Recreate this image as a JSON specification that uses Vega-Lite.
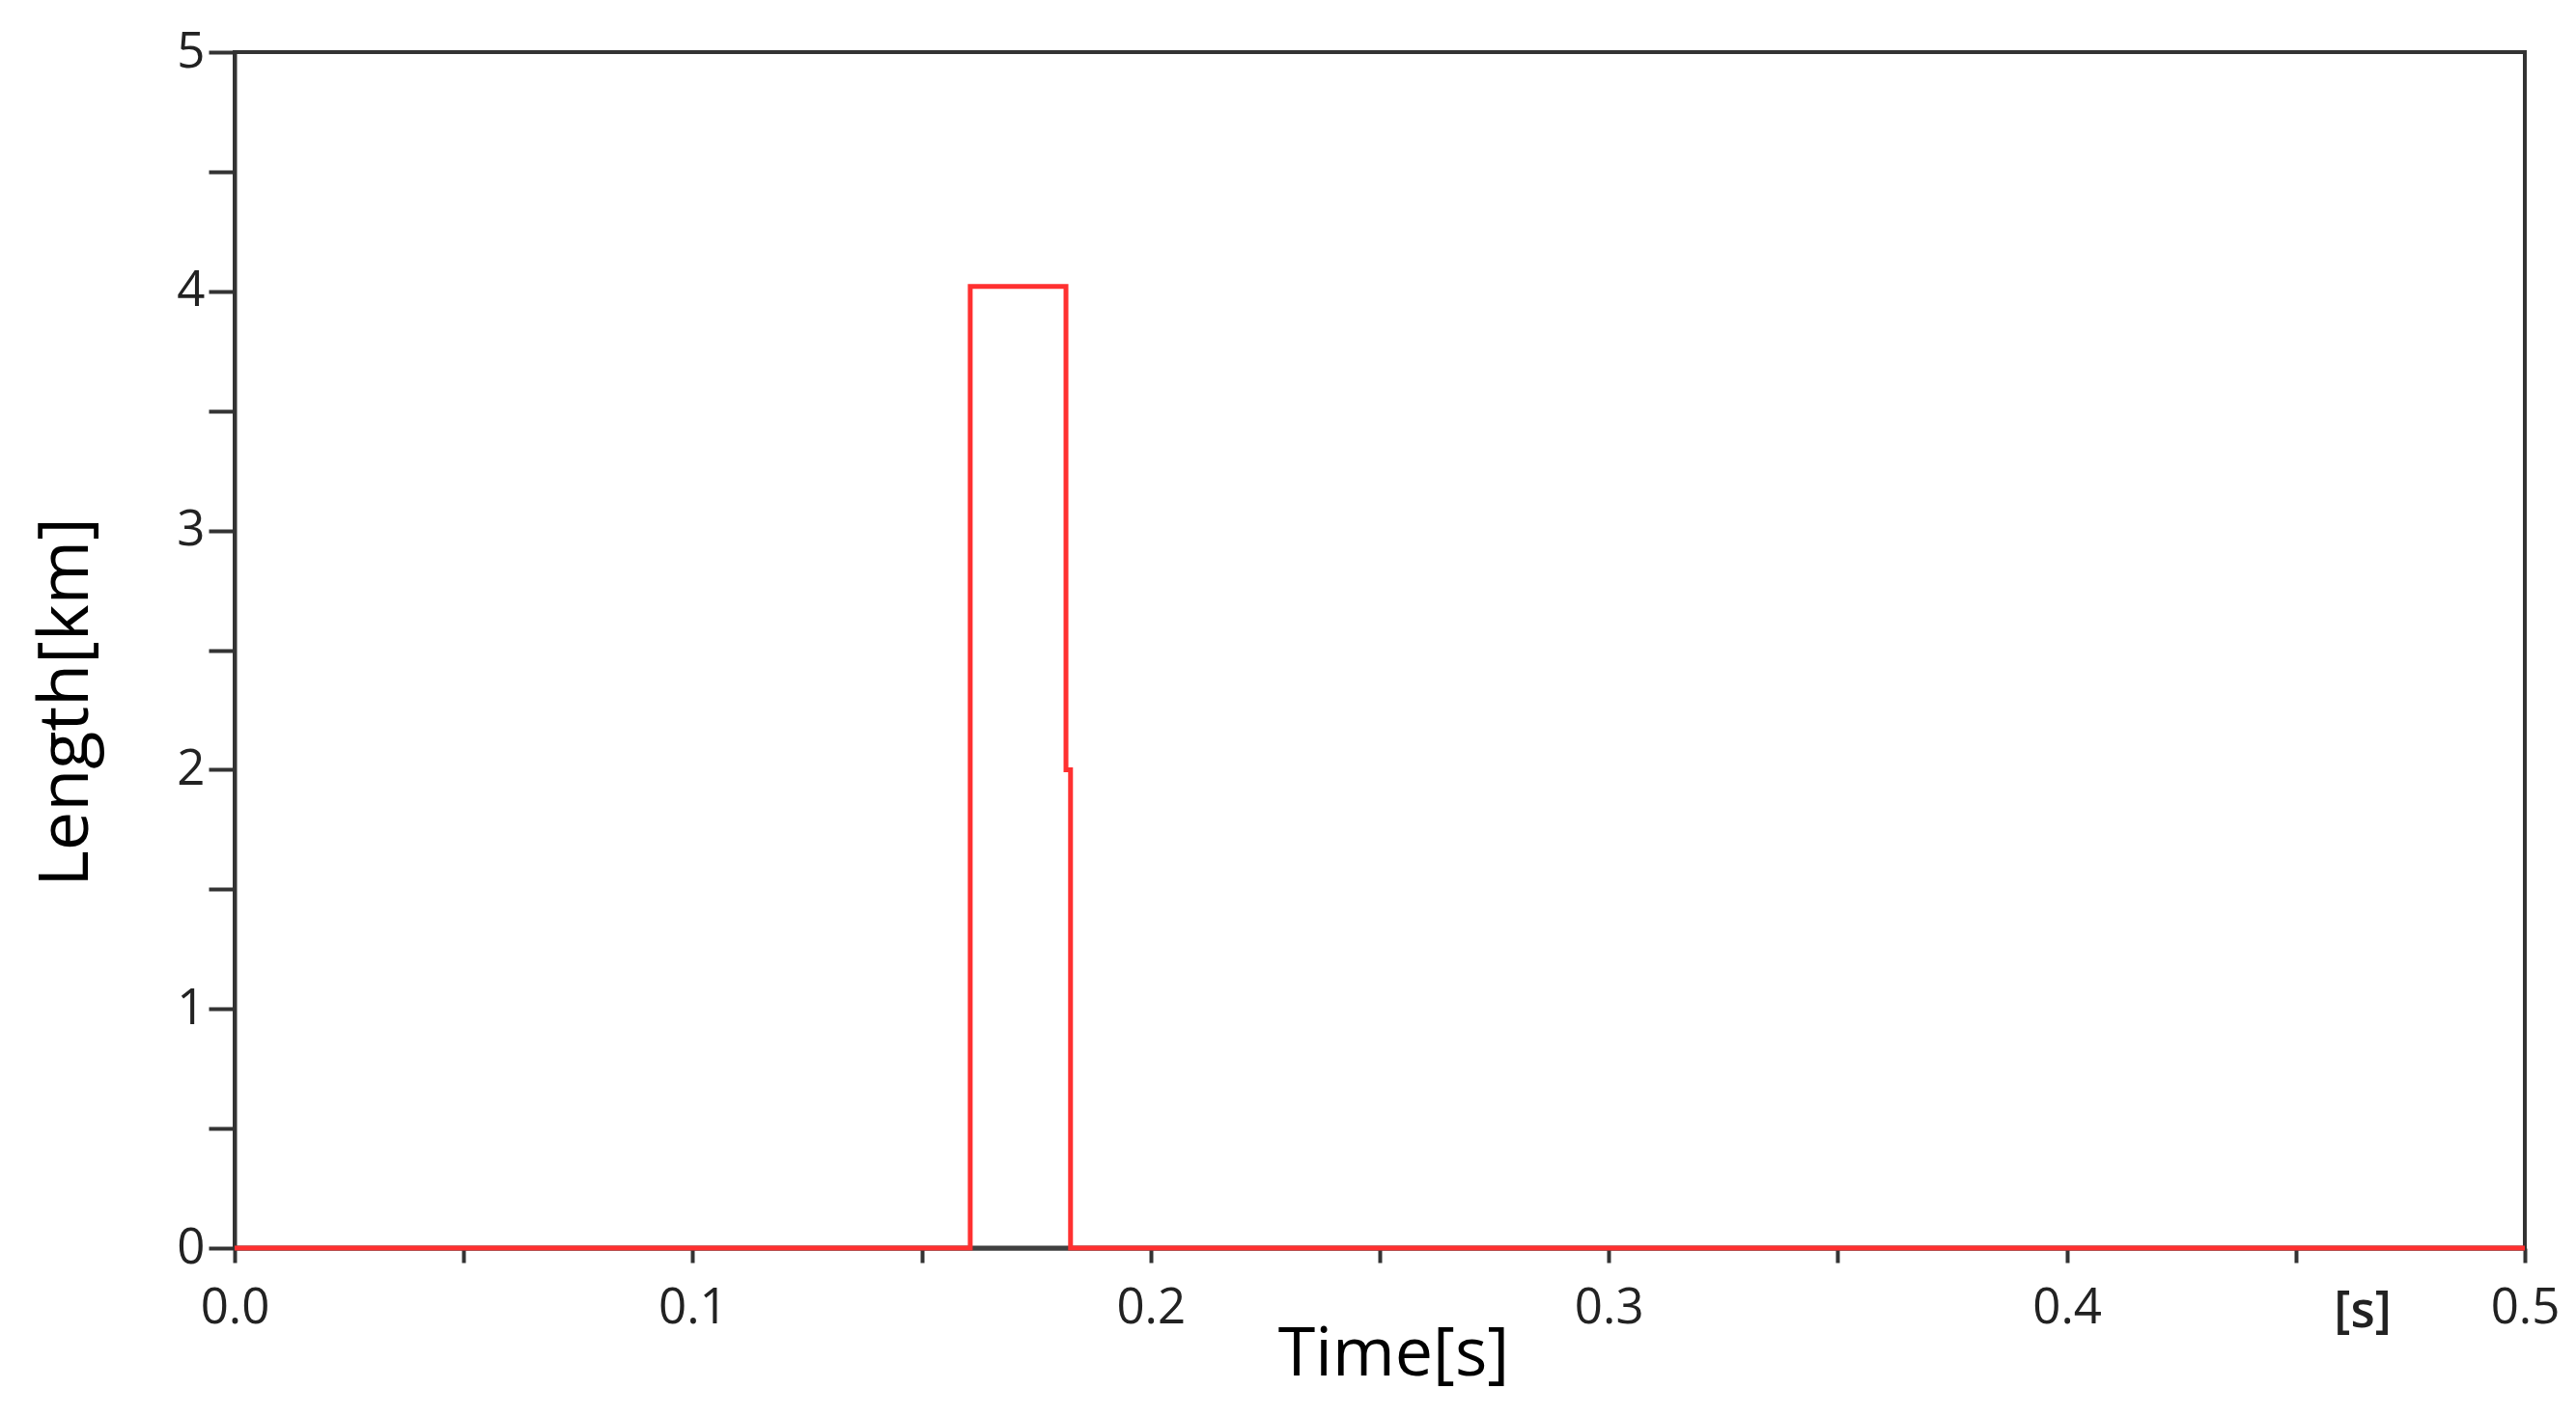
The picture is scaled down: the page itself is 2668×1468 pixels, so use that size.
{
  "$schema": "https://vega.github.io/schema/vega-lite/v6.json",
  "width": 2372,
  "height": 1239,
  "autosize": {"type": "none"},
  "padding": {"left": 243, "top": 54, "right": 53, "bottom": 175},
  "background": "white",
  "config": {
    "view": {"stroke": "#333333", "strokeWidth": 4},
    "font": "Open Sans",
    "axis": {"grid": false}
  },
  "datasets": {
    "lines": [
      {"series": "base", "t": 0, "v": 0},
      {"series": "base", "t": 0.5, "v": 0},
      {"series": "length", "t": 0, "v": 0},
      {"series": "length", "t": 0.1606, "v": 4.02},
      {"series": "length", "t": 0.1815, "v": 2.0},
      {"series": "length", "t": 0.1825, "v": 0},
      {"series": "length", "t": 0.5, "v": 0}
    ],
    "unit": [{"label": "[s]", "t": 0.4646, "v": 0}]
  },
  "layer": [
    {
      "data": {"name": "lines"},
      "mark": {"type": "line", "interpolate": "step-after", "strokeWidth": 5, "clip": false},
      "encoding": {
        "x": {
          "field": "t", "type": "quantitative",
          "scale": {"domain": [0, 0.5], "nice": false, "zero": false},
          "axis": {
            "values": [0, 0.05, 0.1, 0.15, 0.2, 0.25, 0.3, 0.35, 0.4, 0.45, 0.5],
            "labelExpr": "(round(datum.value*100) % 10 == 0) ? format(datum.value, '.1f') : ''",
            "title": "Time[s]",
            "titleFont": "Open Sans",
            "titleFontSize": 70,
            "titleFontWeight": "normal",
            "titleColor": "#000000",
            "titleX": 1200,
            "titleY": 110,
            "titleAnchor": null,
            "titleAlign": "center",
            "titleBaseline": "middle",
            "labelFont": "Open Sans",
            "labelFontSize": 51,
            "labelColor": "#222222",
            "labelPadding": 22,
            "labelFlush": false,
            "labelOverlap": false,
            "tickSize": 15,
            "tickWidth": 4,
            "tickColor": "#333333",
            "domainColor": "#333333",
            "domainWidth": 4
          }
        },
        "y": {
          "field": "v", "type": "quantitative",
          "scale": {"domain": [0, 5], "nice": false},
          "axis": {
            "values": [0, 0.5, 1, 1.5, 2, 2.5, 3, 3.5, 4, 4.5, 5],
            "labelExpr": "(datum.value % 1 == 0) ? format(datum.value, 'd') : ''",
            "title": "Length[km]",
            "titleFont": "Open Sans",
            "titleFontSize": 72,
            "titleFontWeight": "normal",
            "titleColor": "#000000",
            "titleX": -175,
            "titleY": 673,
            "titleAnchor": null,
            "titleAlign": "center",
            "titleBaseline": "middle",
            "titleAngle": -90,
            "labelFont": "Open Sans",
            "labelFontSize": 51,
            "labelColor": "#222222",
            "labelPadding": 4,
            "labelFlush": false,
            "labelOverlap": false,
            "tickSize": 27,
            "tickWidth": 4,
            "tickColor": "#333333",
            "domainColor": "#333333",
            "domainWidth": 4
          }
        },
        "color": {
          "field": "series", "type": "nominal",
          "scale": {"domain": ["base", "length"], "range": ["#404040", "#ff3030"]},
          "legend": null
        },
        "order": {"field": "t", "type": "quantitative"}
      }
    },
    {
      "data": {"name": "unit"},
      "mark": {"type": "text", "font": "Open Sans", "fontSize": 52, "fontWeight": 600, "color": "#222222", "dy": 66, "align": "center", "baseline": "middle", "clip": false},
      "encoding": {
        "x": {"field": "t", "type": "quantitative"},
        "y": {"field": "v", "type": "quantitative"},
        "text": {"field": "label"}
      }
    }
  ]
}
